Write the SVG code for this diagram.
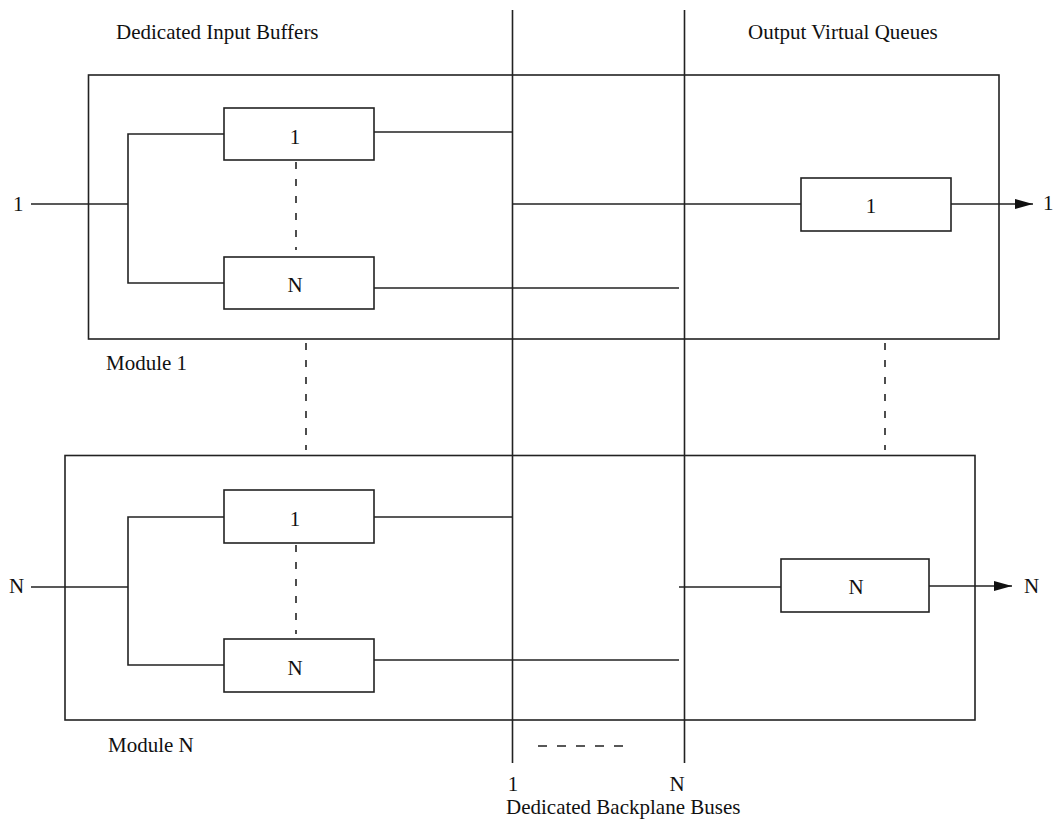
<svg xmlns="http://www.w3.org/2000/svg" width="1059" height="829" viewBox="0 0 1059 829">
  <defs>
    <style>
      .ln { stroke: #222; stroke-width: 1.6; fill: none; }
      .box { stroke: #222; stroke-width: 1.6; fill: none; }
      .dash { stroke: #222; stroke-width: 1.6; fill: none; stroke-dasharray: 7 10; }
      .txt { font-family: "Liberation Serif", "Times New Roman", serif; font-size: 21px; fill: #111; }
      .mid { text-anchor: middle; }
    </style>
    <marker id="arrow" viewBox="0 0 18 10" refX="18" refY="5" markerWidth="18" markerHeight="10" markerUnits="userSpaceOnUse" orient="auto">
      <path d="M0,0 L18,5 L0,10 Z" fill="#111"/>
    </marker>
  </defs>
  <rect width="1059" height="829" fill="#fff"/>

  <!-- section titles -->
  <text class="txt" x="116" y="39">Dedicated Input Buffers</text>
  <text class="txt" x="748" y="39">Output Virtual Queues</text>

  <!-- module 1 -->
  <g id="module1">
    <rect class="box" x="88.5" y="75" width="910.5" height="264"/>
    <text class="txt" x="106" y="370">Module 1</text>
  </g>
  <g id="m1-in1">
    <rect class="box" x="224" y="108" width="150" height="52"/>
    <text class="txt mid" x="295" y="144">1</text>
  </g>
  <g id="m1-inN">
    <rect class="box" x="224" y="257" width="150" height="52"/>
    <text class="txt mid" x="295" y="292">N</text>
  </g>
  <g id="m1-out">
    <rect class="box" x="801" y="178" width="150" height="53"/>
    <text class="txt mid" x="871" y="213">1</text>
  </g>

  <!-- module N -->
  <g id="moduleN">
    <rect class="box" x="65" y="455.5" width="910" height="264.5"/>
    <text class="txt" x="108" y="752">Module N</text>
  </g>
  <g id="mN-in1">
    <rect class="box" x="224" y="490" width="150" height="53"/>
    <text class="txt mid" x="295" y="526">1</text>
  </g>
  <g id="mN-inN">
    <rect class="box" x="224" y="639" width="150" height="53"/>
    <text class="txt mid" x="295" y="675">N</text>
  </g>
  <g id="mN-out">
    <rect class="box" x="781" y="559" width="148" height="53"/>
    <text class="txt mid" x="856" y="594">N</text>
  </g>

  <!-- backplane buses -->
  <g id="buses">
    <line class="ln" x1="512.5" y1="10" x2="512.5" y2="763"/>
    <line class="ln" x1="684.5" y1="10" x2="684.5" y2="763"/>
    <line class="ln" x1="538" y1="746" x2="625" y2="746" style="stroke-dasharray:9 10"/>
    <text class="txt mid" x="513" y="791">1</text>
    <text class="txt mid" x="677" y="791">N</text>
    <text class="txt" x="506" y="814">Dedicated Backplane Buses</text>
  </g>

  <!-- ports -->
  <text class="txt" x="13" y="211">1</text>
  <text class="txt" x="9" y="593">N</text>
  <text class="txt" x="1043" y="210">1</text>
  <text class="txt" x="1024" y="593">N</text>

  <g id="connectors">
    <!-- module 1 input fan-out -->
    <line class="ln" x1="31" y1="204" x2="128" y2="204"/>
    <polyline class="ln" points="224,134 128,134 128,283 224,283"/>
    <line class="dash" x1="296" y1="162" x2="296" y2="250"/>
    <line class="ln" x1="374" y1="132" x2="512.5" y2="132"/>
    <line class="ln" x1="374" y1="288" x2="679" y2="288"/>
    <!-- module 1 output -->
    <line class="ln" x1="512.5" y1="204" x2="801" y2="204"/>
    <line class="ln" x1="951" y1="204" x2="1033" y2="204" marker-end="url(#arrow)"/>

    <!-- module N input fan-out -->
    <line class="ln" x1="31" y1="587" x2="128" y2="587"/>
    <polyline class="ln" points="224,517 128,517 128,665 224,665"/>
    <line class="dash" x1="296" y1="545" x2="296" y2="634"/>
    <line class="ln" x1="374" y1="517" x2="512.5" y2="517"/>
    <line class="ln" x1="374" y1="660" x2="679" y2="660"/>
    <!-- module N output -->
    <line class="ln" x1="679" y1="587" x2="781" y2="587"/>
    <line class="ln" x1="929" y1="586" x2="1012" y2="586" marker-end="url(#arrow)"/>

    <!-- elided modules -->
    <line class="dash" x1="306" y1="343" x2="306" y2="450"/>
    <line class="dash" x1="885" y1="343" x2="885" y2="450"/>
  </g>
</svg>
